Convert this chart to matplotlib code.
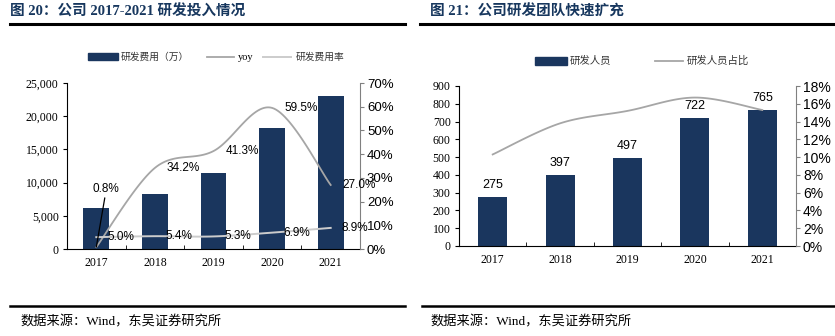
import numpy as np
import matplotlib
matplotlib.use('Agg')
import matplotlib.pyplot as plt
from matplotlib.patches import Rectangle
from matplotlib.lines import Line2D
from matplotlib.ticker import FuncFormatter, MultipleLocator

plt.rcParams['font.family'] = ['Liberation Sans', 'Noto Sans CJK SC']

years = ['2017', '2018', '2019', '2020', '2021']

# R&D spend (10k yuan), yoy growth and R&D / revenue ratio
rd_spend = [6100, 8250, 11500, 18200, 23000]
rd_yoy = [0.8, 34.2, 41.3, 59.5, 27.0]
rd_rate = [5.0, 5.4, 5.3, 6.9, 8.9]

# R&D headcount and share of all staff
rd_staff = [275, 397, 497, 722, 765]
rd_staff_pct = [10.3, 13.8, 15.2, 16.7, 15.3]

NAVY = '#1a365e'
TITLE_C = '#17375e'
YOY_C = '#a6a6a6'
RATE_C = '#cccccc'
W, H = 835, 336
SERIF = ['Liberation Serif', 'Noto Sans CJK SC']
CJK = ['Noto Sans CJK SC', 'Liberation Sans']


def fx(x):
    return x / W


def fy(y):
    return 1 - y / H


def smooth(xs, ys, n=30):
    # cubic bezier through the points, catmull-rom style control points
    p = np.column_stack([xs, ys]).astype(float)
    p = np.vstack([p[0], p, p[-1]])
    out = []
    for i in range(1, len(p) - 2):
        p0, p1, p2, p3 = p[i - 1], p[i], p[i + 1], p[i + 2]
        c1 = p1 + (p2 - p0) / 6
        c2 = p2 - (p3 - p1) / 6
        t = np.linspace(0, 1, n)[:, None]
        seg = ((1 - t) ** 3) * p1 + 3 * ((1 - t) ** 2) * t * c1 + 3 * (1 - t) * t ** 2 * c2 + t ** 3 * p2
        out.append(seg)
    out = np.vstack(out)
    return out[:, 0], out[:, 1]


def axes_px(fig, x0, y0, x1, y1):
    return fig.add_axes([fx(x0), fy(y1), fx(x1 - x0), (y1 - y0) / H])


def style_axes(ax, ax2, pct_size):
    for s in ['top', 'right']:
        ax.spines[s].set_visible(False)
    for s in ['top', 'left', 'bottom']:
        ax2.spines[s].set_visible(False)
    ax.spines['left'].set_color('black')
    ax.spines['bottom'].set_color('black')
    ax2.spines['right'].set_color('#808080')
    ax.tick_params(axis='y', direction='out', length=3, labelsize=8.5, pad=3)
    ax.tick_params(axis='x', which='major', length=0, labelsize=8.5, pad=6)
    ax.tick_params(axis='x', which='minor', direction='in', length=3)
    ax2.tick_params(axis='y', direction='out', length=3, colors='#808080',
                    labelcolor='black', labelsize=pct_size, pad=2)
    for lab in ax.get_yticklabels() + ax.get_xticklabels():
        lab.set_family(SERIF)
    ax.set_xticks(np.arange(-0.5, 5, 1), minor=True)


fig = plt.figure(figsize=(W / 100, H / 100), dpi=100)

# titles and rules
fig.text(fx(10), fy(12), '图 20：公司 2017-2021 研发投入情况', fontsize=10.5,
         fontweight='bold', color=TITLE_C, va='center', family=SERIF)
fig.text(fx(430), fy(12), '图 21：公司研发团队快速扩充', fontsize=10.5,
         fontweight='bold', color=TITLE_C, va='center', family=SERIF)
for xa, xb, y, lw in [(10, 405, 24, 2.2), (420, 835, 24, 2.2), (10, 405, 306, 1.8), (422, 835, 306, 1.8)]:
    fig.add_artist(Line2D([fx(xa), fx(xb)], [fy(y), fy(y)], color='black', lw=lw))
for x0 in [20, 430]:
    fig.text(fx(x0), fy(322), '数据来源：Wind，东吴证券研究所', fontsize=9.5,
             va='center', family=SERIF)

# ---- left chart: R&D spend ----
xs = np.arange(len(years))
ax = axes_px(fig, 67, 83, 360, 249)
ax2 = ax.twinx()
ax.bar(xs, rd_spend, width=0.44, color=NAVY, zorder=2)
ax.set_xlim(-0.5, 4.5)
ax.set_ylim(0, 25000)
ax.yaxis.set_major_locator(MultipleLocator(5000))
ax.yaxis.set_major_formatter(FuncFormatter(lambda v, p: f'{v:,.0f}'))
ax.set_xticks(xs)
ax.set_xticklabels(years)
ax2.set_ylim(0, 70)
ax2.yaxis.set_major_locator(MultipleLocator(10))
ax2.yaxis.set_major_formatter(FuncFormatter(lambda v, p: f'{v:.0f}%'))
style_axes(ax, ax2, 9.5)

sx, sy = smooth(xs, rd_yoy)
ax2.plot(sx, sy, color=YOY_C, lw=1.3, zorder=3)
rx, ry = smooth(xs, rd_rate)
ax2.plot(rx, ry, color=RATE_C, lw=1.4, zorder=3)
for i in range(1, 5):
    ax2.annotate(f'{rd_yoy[i]:.1f}%', (xs[i], rd_yoy[i]), xytext=(12, 0),
                 textcoords='offset pixels', ha='left', va='center', fontsize=8.5, zorder=5)
ax2.annotate(f'{rd_yoy[0]:.1f}%', (xs[0], rd_yoy[0]), xytext=(10, 52),
             textcoords='offset pixels', ha='center', va='bottom', fontsize=8.5, zorder=5,
             arrowprops=dict(arrowstyle='-', color='black', lw=0.9, shrinkA=0, shrinkB=0))
for i in range(5):
    ax2.annotate(f'{rd_rate[i]:.1f}%', (xs[i], rd_rate[i]), xytext=(11, 0),
                 textcoords='offset pixels', ha='left', va='center', fontsize=8.5, zorder=5)

# legend
fig.add_artist(Rectangle((fx(88), fy(60)), fx(30), 7 / H, color=NAVY))
fig.text(fx(121), fy(57), '研发费用（万）', fontsize=7, va='center', family=CJK, color='#333333')
fig.add_artist(Line2D([fx(207), fx(234)], [fy(57), fy(57)], color=YOY_C, lw=1.3))
fig.text(fx(238), fy(57), 'yoy', fontsize=7.5, va='center', family=SERIF)
fig.add_artist(Line2D([fx(263), fx(291)], [fy(57), fy(57)], color=RATE_C, lw=1.4))
fig.text(fx(296), fy(57), '研发费用率', fontsize=7, va='center', family=CJK, color='#333333')

# ---- right chart: R&D staff ----
bx = axes_px(fig, 459, 86, 796, 246)
bx2 = bx.twinx()
bx.bar(xs, rd_staff, width=0.43, color=NAVY, zorder=2)
bx.set_xlim(-0.5, 4.5)
bx.set_ylim(0, 900)
bx.yaxis.set_major_locator(MultipleLocator(100))
bx.set_xticks(xs)
bx.set_xticklabels(years)
bx2.set_ylim(0, 18)
bx2.yaxis.set_major_locator(MultipleLocator(2))
bx2.yaxis.set_major_formatter(FuncFormatter(lambda v, p: f'{v:.0f}%'))
style_axes(bx, bx2, 10)

for i in range(5):
    bx.annotate(f'{rd_staff[i]}', (xs[i], rd_staff[i]), xytext=(0, 6),
                textcoords='offset pixels', ha='center', va='bottom', fontsize=9, zorder=5)
px_, py_ = smooth(xs, rd_staff_pct)
bx2.plot(px_, py_, color=YOY_C, lw=1.3, zorder=3)

fig.add_artist(Rectangle((fx(535), fy(65)), fx(32), 8 / H, color=NAVY))
fig.text(fx(570), fy(61), '研发人员', fontsize=7.5, va='center', family=CJK, color='#333333')
fig.add_artist(Line2D([fx(655), fx(683)], [fy(61), fy(61)], color=YOY_C, lw=1.3))
fig.text(fx(687), fy(61), '研发人员占比', fontsize=7.5, va='center', family=CJK, color='#333333')

fig.savefig('out.png', dpi=100)
